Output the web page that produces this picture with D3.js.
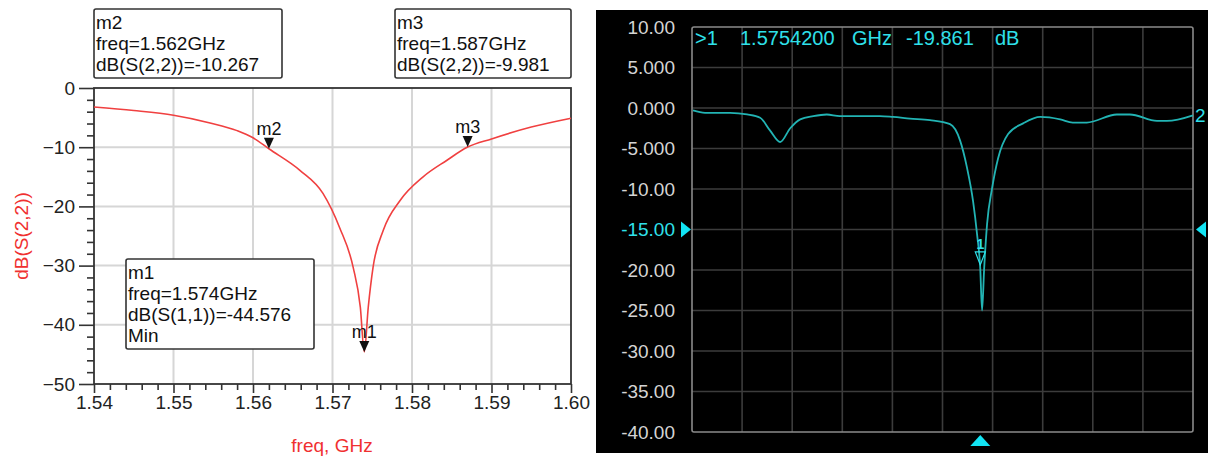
<!DOCTYPE html>
<html>
<head>
<meta charset="utf-8">
<script src="https://cdn.jsdelivr.net/npm/d3@7"></script>
<style>
  body { margin: 0; background: #fff; }
  svg { display: block; font-family: "Liberation Sans", Arial, sans-serif; }
</style>
</head>
<body>
<script>
// left panel: simulated S(2,2)
const simFreq = [1.540, 1.545, 1.550, 1.5546, 1.558, 1.560, 1.562, 1.5659, 1.5688, 1.5709, 1.5726, 1.5735, 1.5740,
                 1.5745, 1.5751, 1.5764, 1.5785, 1.5814, 1.5844, 1.587, 1.590, 1.595, 1.600];
const simDb = [-3.2, -3.8, -4.6, -5.9, -7.2, -8.4, -10.267, -13.9, -17.8, -23.6, -30.3, -37, -44.576,
               -37, -30.3, -24, -19, -15, -12.2, -9.981, -8.6, -6.6, -5.1];
const simXTicks = [1.54, 1.55, 1.56, 1.57, 1.58, 1.59, 1.60];
const simYTicks = [0, -10, -20, -30, -40, -50];
const simMarkers = [
  { name: "m1", freq: 1.574, db: -44.576, lines: ["m1", "freq=1.574GHz", "dB(S(1,1))=-44.576", "Min"] },
  { name: "m2", freq: 1.562, db: -10.267, lines: ["m2", "freq=1.562GHz", "dB(S(2,2))=-10.267"] },
  { name: "m3", freq: 1.587, db: -9.981, lines: ["m3", "freq=1.587GHz", "dB(S(2,2))=-9.981"] }
];

// right panel: measured trace (span assumed 1 - 2 GHz)
const measFreq = [1.002, 1.026, 1.076, 1.110, 1.136, 1.156, 1.176, 1.196, 1.216, 1.242, 1.269, 1.295, 1.375, 1.401,
                  1.435, 1.475, 1.515, 1.535, 1.549, 1.561, 1.569, 1.5754, 1.579, 1.583, 1.589, 1.599, 1.611, 1.631,
                  1.661, 1.695, 1.735, 1.760, 1.788, 1.848, 1.874, 1.928, 1.948, 2.000];
const measDb = [-0.3, -0.6, -0.6, -0.8, -1.2, -2.8, -4.2, -2.5, -1.4, -1.0, -0.8, -1.0, -1.0, -1.1,
                -1.3, -1.5, -2.0, -4.0, -7.4, -11.5, -15.6, -19.861, -25, -20, -14.3, -9.9, -6.2, -3.2,
                -1.9, -1.1, -1.4, -1.8, -1.8, -0.8, -0.8, -1.6, -1.6, -0.9];
const measYTicks = [10, 5, 0, -5, -10, -15, -20, -25, -30, -35, -40];
const measYLabels = ["10.00", "5.000", "0.000", "-5.000", "-10.00", "-15.00", "-20.00", "-25.00", "-30.00", "-35.00", "-40.00"];
const measRef = -15;
const measMarker = { freq: 1.57542, db: -19.861 };
const readout = [">1", "1.5754200", "GHz", "-19.861", "dB"];

const W = 1208, H = 460;
const svg = d3.select("body").append("svg").attr("width", W).attr("height", H);

// ---------- left ----------
const L = { left: 94, right: 571, top: 88, bottom: 384 };
const x1 = d3.scaleLinear().domain([1.54, 1.60]).range([L.left, L.right]);
const y1 = d3.scaleLinear().domain([0, -50]).range([L.top, L.bottom]);
const g1 = svg.append("g");

g1.append("g").selectAll("line.vg")
  .data(simXTicks.slice(1, -1)).enter().append("line")
  .attr("x1", d => x1(d)).attr("x2", d => x1(d))
  .attr("y1", L.top).attr("y2", L.bottom)
  .attr("stroke", "#d6d6d6").attr("stroke-width", 2);
g1.append("g").selectAll("line.hg")
  .data(simYTicks.slice(1, -1)).enter().append("line")
  .attr("x1", L.left).attr("x2", L.right)
  .attr("y1", d => y1(d)).attr("y2", d => y1(d))
  .attr("stroke", "#d6d6d6").attr("stroke-width", 2);

// minor ticks
const yMinor = d3.range(0, -50.01, -2).filter(v => v % 10 !== 0);
const yAx = d3.axisLeft(y1).tickValues(simYTicks).tickSize(15).tickPadding(4).tickFormat(d3.format("d"));
const yAxMinor = d3.axisLeft(y1).tickValues(yMinor).tickSize(7).tickFormat("");
const xAx = d3.axisBottom(x1).tickValues(simXTicks).tickSize(9).tickPadding(3).tickFormat(d3.format(".2f"));
const xMinor = d3.range(1.542, 1.599, 0.002).filter(v => Math.abs(v * 100 - Math.round(v * 100)) > 0.01);
const xAxMinor = d3.axisBottom(x1).tickValues(xMinor).tickSize(6).tickFormat("");

function styleAxis(sel) {
  sel.select(".domain").remove();
  sel.selectAll("line").attr("stroke", "#333").attr("stroke-width", 1.6);
  sel.selectAll("text").attr("fill", "#222").style("font-size", "19px").style("font-family", "Liberation Sans, Arial, sans-serif");
}
g1.append("g").attr("transform", `translate(${L.left},0)`).call(yAx).call(styleAxis);
g1.append("g").attr("transform", `translate(${L.left},0)`).call(yAxMinor).call(styleAxis);
g1.append("g").attr("transform", `translate(0,${L.bottom})`).call(xAx).call(styleAxis);
g1.append("g").attr("transform", `translate(0,${L.bottom})`).call(xAxMinor).call(styleAxis);

g1.append("rect")
  .attr("x", L.left).attr("y", L.top)
  .attr("width", L.right - L.left).attr("height", L.bottom - L.top)
  .attr("fill", "none").attr("stroke", "#333").attr("stroke-width", 1.8);

const simLine = d3.line().x((d, i) => x1(simFreq[i])).y(d => y1(d)).curve(d3.curveMonotoneX);
g1.append("path").attr("d", simLine(simDb))
  .attr("fill", "none").attr("stroke", "#f04040").attr("stroke-width", 1.6);

// marker triangles + labels on curve
simMarkers.forEach(m => {
  const px = x1(m.freq), py = y1(m.db);
  g1.append("path").attr("d", `M${px - 5},${py - 11}L${px + 5},${py - 11}L${px},${py}Z`).attr("fill", "#111");
  g1.append("text").attr("x", px).attr("y", py - 14)
    .attr("text-anchor", "middle").attr("fill", "#111").style("font-size", "18px").text(m.name);
});

// marker boxes
const boxes = { m2: { x: 94, y: 9, w: 188, h: 69 }, m3: { x: 395, y: 9, w: 176, h: 69 }, m1: { x: 126, y: 259, w: 188, h: 90 } };
simMarkers.forEach(m => {
  const b = boxes[m.name];
  g1.append("rect").attr("x", b.x).attr("y", b.y).attr("width", b.w).attr("height", b.h)
    .attr("rx", 2).attr("fill", "#fff").attr("stroke", "#333").attr("stroke-width", 1.6);
  g1.append("g").selectAll("text").data(m.lines).enter().append("text")
    .attr("x", b.x + 2).attr("y", (d, i) => b.y + 20 + i * 21)
    .attr("fill", "#111").style("font-size", "19px").text(d => d);
});

g1.append("text").attr("transform", "translate(28,236) rotate(-90)")
  .attr("text-anchor", "middle").attr("fill", "#f03030").style("font-size", "19px").text("dB(S(2,2))");
g1.append("text").attr("x", 332).attr("y", 452)
  .attr("text-anchor", "middle").attr("fill", "#f03030").style("font-size", "19px").text("freq, GHz");

// ---------- right ----------
const R = { left: 692, right: 1193, top: 27, bottom: 432 };
const x2 = d3.scaleLinear().domain([1.0, 2.0]).range([R.left, R.right]);
const y2 = d3.scaleLinear().domain([10, -40]).range([R.top, R.bottom]);
const g2 = svg.append("g");

g2.append("rect").attr("x", 596).attr("y", 10).attr("width", 612).attr("height", 443).attr("fill", "#000");

g2.append("g").selectAll("line")
  .data(d3.range(1.1, 1.95, 0.1)).enter().append("line")
  .attr("x1", d => x2(d)).attr("x2", d => x2(d))
  .attr("y1", R.top).attr("y2", R.bottom)
  .attr("stroke", "#3c3c3c").attr("stroke-width", 1.6);
g2.append("g").selectAll("line")
  .data(measYTicks.slice(1, -1)).enter().append("line")
  .attr("x1", R.left).attr("x2", R.right)
  .attr("y1", d => y2(d)).attr("y2", d => y2(d))
  .attr("stroke", "#3c3c3c").attr("stroke-width", 1.6);
g2.append("rect").attr("x", R.left).attr("y", R.top)
  .attr("width", R.right - R.left).attr("height", R.bottom - R.top)
  .attr("rx", 2).attr("fill", "none").attr("stroke", "#8a8a8a").attr("stroke-width", 1.6);

g2.append("g").selectAll("text")
  .data(measYTicks).enter().append("text")
  .attr("x", 675).attr("y", d => y2(d)).attr("dy", "0.35em")
  .attr("text-anchor", "end")
  .attr("fill", d => d === measRef ? "#2fe0ea" : "#d4d4d4")
  .style("font-size", "19px")
  .text((d, i) => measYLabels[i]);

const measLine = d3.line().x((d, i) => x2(measFreq[i])).y(d => y2(d)).curve(d3.curveMonotoneX);
g2.append("path").attr("d", measLine(measDb))
  .attr("fill", "none").attr("stroke", "#22b4b4").attr("stroke-width", 1.8);

// reference level triangles
const ry = y2(measRef);
g2.append("path").attr("d", `M681,${ry - 8}L691,${ry}L681,${ry + 8}Z`).attr("fill", "#12e4f4");
g2.append("path").attr("d", `M1206,${ry - 8}L1196,${ry}L1206,${ry + 8}Z`).attr("fill", "#12e4f4");
g2.append("text").attr("x", 1195).attr("y", y2(-0.9)).attr("dy", "0.35em")
  .attr("fill", "#2fe0ea").style("font-size", "19px").text("2");

// marker 1
const mx = x2(measMarker.freq), my = y2(measMarker.db);
g2.append("path").attr("d", `M${mx - 5},${my - 17}L${mx + 5},${my - 17}L${mx},${my - 4}Z`)
  .attr("fill", "none").attr("stroke", "#2fe0ea").attr("stroke-width", 1.2);
g2.append("text").attr("x", mx).attr("y", my - 20).attr("text-anchor", "middle")
  .attr("fill", "#2fe0ea").style("font-size", "14px").style("font-weight", "bold").text("1");
g2.append("path").attr("d", `M${mx - 10},${446}L${mx + 10},${446}L${mx},${435}Z`).attr("fill", "#12e4f4");

// header readout, each field at its column
const readoutX = [695, 740, 852, 906, 995];
g2.append("g").selectAll("text").data(readout).enter().append("text")
  .attr("x", (d, i) => readoutX[i]).attr("y", 45)
  .attr("fill", "#2fe0ea").style("font-size", "20px")
  .text(d => d);
</script>
</body>
</html>
